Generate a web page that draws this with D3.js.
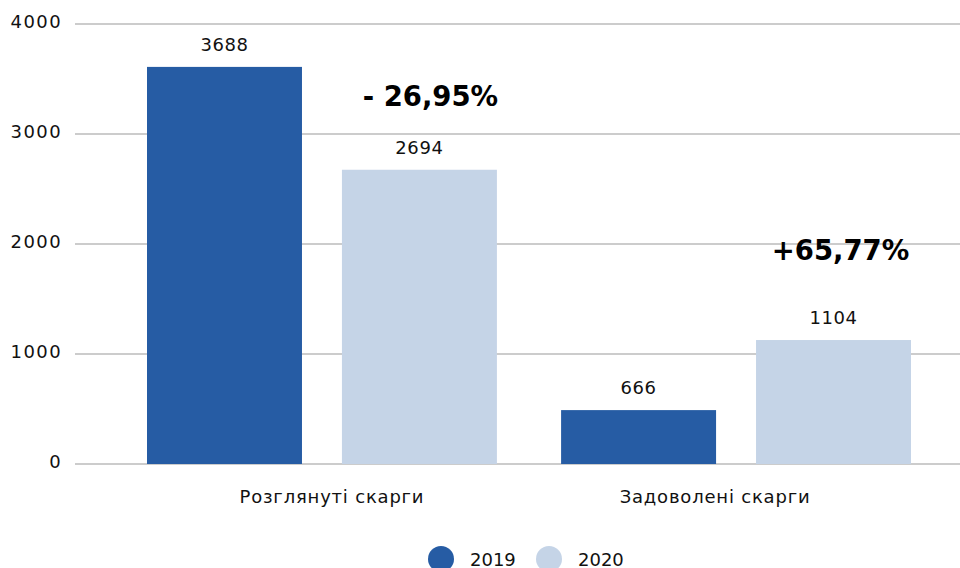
<!DOCTYPE html>
<html>
<head>
<meta charset="utf-8">
<script src="https://cdn.jsdelivr.net/npm/d3@7"></script>
<style>
  body { margin: 0; background: #fff; }
  svg { display: block; font-family: "DejaVu Sans", sans-serif; }
</style>
</head>
<body>
<script>
(function(){
  var width = 960;
  var height = 568;

  // data
  var categories = ["Розглянуті скарги", "Задоволені скарги"];
  var years = ["2019", "2020"];
  var values2019 = [3610, 490];
  var values2020 = [2675, 1127];
  var labels2019 = ["3688", "666"];
  var labels2020 = ["2694", "1104"];
  var changes = ["- 26,95%", "+65,77%"];
  var yTicks = [0, 1000, 2000, 3000, 4000];

  var colors = ["#265ca4", "#c5d4e7"];

  var svg = d3.select("body").append("svg")
    .attr("width", width)
    .attr("height", height);

  var x0 = d3.scaleBand().domain(categories).range([147, 911]).paddingInner(0.155);
  var x1 = d3.scaleBand().domain(years).range([0, x0.bandwidth()]).paddingInner(0.205);
  var y = d3.scaleLinear().domain([0, 4000]).range([464, 24]);
  var color = d3.scaleOrdinal().domain(years).range(colors);

  // grid + y labels
  var yAxis = d3.axisLeft(y).tickValues(yTicks).tickFormat(d3.format("d")).tickSize(0).tickPadding(0);
  var gy = svg.append("g").attr("transform", "translate(62,0)").call(yAxis);
  gy.select(".domain").remove();
  gy.selectAll("text")
    .attr("dy", "0")
    .attr("y", 3)
    .style("font-size", "18px")
    .style("letter-spacing", "1.4px")
    .style("fill", "#111")
    .style("font-family", "DejaVu Sans, sans-serif");

  svg.append("g").selectAll("line")
    .data(yTicks)
    .join("line")
    .attr("x1", 75)
    .attr("x2", width)
    .attr("y1", d => y(d))
    .attr("y2", d => y(d))
    .style("stroke", "#cccccc")
    .style("stroke-width", 2);

  var rows = categories.map((c, i) => ({
    cat: c,
    bars: [
      { year: years[0], value: values2019[i], label: labels2019[i] },
      { year: years[1], value: values2020[i], label: labels2020[i] }
    ],
    change: changes[i]
  }));

  var groups = svg.append("g").selectAll("g")
    .data(rows)
    .join("g")
    .attr("transform", d => "translate(" + x0(d.cat) + ",0)");

  groups.selectAll("rect")
    .data(d => d.bars)
    .join("rect")
    .attr("x", d => x1(d.year))
    .attr("y", d => y(d.value))
    .attr("width", x1.bandwidth())
    .attr("height", d => y(0) - y(d.value))
    .style("fill", d => color(d.year));

  groups.selectAll("text.val")
    .data(d => d.bars)
    .join("text")
    .attr("class", "val")
    .attr("x", d => x1(d.year) + x1.bandwidth() / 2)
    .attr("y", d => y(d.value) - 16)
    .attr("text-anchor", "middle")
    .style("font-size", "18px")
    .style("letter-spacing", "0.6px")
    .style("fill", "#111")
    .text(d => d.label);

  var changeDx = [11, 7];
  groups.append("text")
    .attr("x", (d, i) => x1(years[1]) + x1.bandwidth() / 2 + changeDx[i])
    .attr("y", d => y(d.bars[1].value) - (d.cat === categories[0] ? 64 : 80))
    .attr("text-anchor", "middle")
    .style("font-size", "27.5px")
    .style("font-weight", "bold")
    .style("fill", "#000")
    .text(d => d.change);

  // category labels
  var catOffset = [10, -21];
  svg.append("g").selectAll("text")
    .data(categories)
    .join("text")
    .attr("x", (d, i) => x0(d) + x0.bandwidth() / 2 + catOffset[i])
    .attr("y", 503)
    .attr("text-anchor", "middle")
    .style("font-size", "18px")
    .style("letter-spacing", "0.8px")
    .style("fill", "#111")
    .text(d => d);

  // legend
  var legend = svg.append("g").selectAll("g")
    .data(years)
    .join("g")
    .attr("transform", (d, i) => "translate(" + (441 + i * 108) + ",559)");

  legend.append("circle")
    .attr("r", 13)
    .style("fill", d => color(d));

  legend.append("text")
    .attr("x", 29)
    .attr("y", 7)
    .style("font-size", "18px")
    .style("fill", "#111")
    .text(d => d);
})();
</script>
</body>
</html>
